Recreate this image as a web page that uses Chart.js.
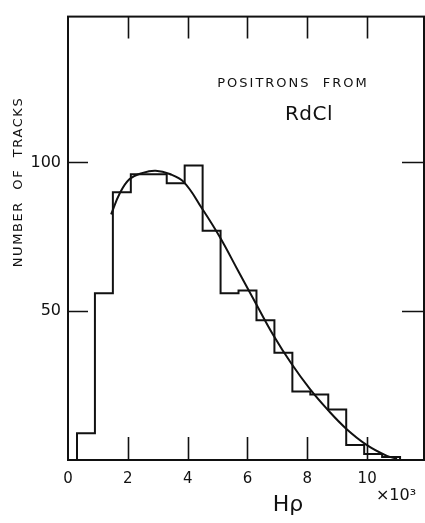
<!DOCTYPE html>
<html>
<head>
<meta charset="utf-8">
<script src="https://cdn.jsdelivr.net/npm/chart.js@4.4.1/dist/chart.umd.min.js"></script>
<style>
  html, body { margin: 0; padding: 0; background: #fff; }
  #wrap { width: 425px; height: 523px; }
</style>
</head>
<body>
<div id="wrap"><canvas id="tracksChart" width="425" height="523"></canvas></div>
<script>
// histogram: bins of width 0.6 (x10^3 gauss-cm), left edges
const binEdges = [0.3, 0.9, 1.5, 2.1, 2.7, 3.3, 3.9, 4.5, 5.1, 5.7, 6.3, 6.9, 7.5, 8.1, 8.7, 9.3, 9.9, 10.5, 11.1];
const trackCounts = [9, 56, 90, 96, 96, 93, 99, 77, 56, 57, 47, 36, 23, 22, 17, 5, 2, 1];

// smooth theoretical curve
const curveX = [1.44, 1.72, 2.06, 2.5, 2.93, 3.4, 3.88, 4.48, 5.07, 5.69, 6.28, 6.86, 7.46, 8.09, 8.67, 9.28, 9.98, 10.66, 11.0];
const curveY = [82.5, 89.4, 94.4, 96.5, 97.2, 96.1, 93.3, 84.5, 75, 63.5, 52.6, 42, 32.5, 23.8, 17, 10.7, 5.1, 1.4, 0.4];

const xTicks = [0, 2, 4, 6, 8, 10];
const yTicks = [50, 100];
const innerTicksX = [2, 4, 6, 8, 10];

const ink = '#111';

// step outline points
const histPoints = [{ x: binEdges[0], y: 0 }];
for (let i = 0; i < trackCounts.length; i++) {
  histPoints.push({ x: binEdges[i], y: trackCounts[i] });
}
histPoints.push({ x: binEdges[binEdges.length - 1], y: 0 });

const curvePoints = curveX.map((x, i) => ({ x: x, y: curveY[i] }));

// frame, inward ticks and the lettering
const frameAndText = {
  id: 'frameAndText',
  afterDraw(chart) {
    const ctx = chart.ctx;
    const a = chart.chartArea;
    const xs = chart.scales.x;
    const ys = chart.scales.y;
    ctx.save();
    ctx.strokeStyle = ink;
    ctx.lineWidth = 2;
    ctx.strokeRect(a.left, a.top, a.right - a.left, a.bottom - a.top);
    ctx.beginPath();
    innerTicksX.forEach(v => {
      const px = Math.round(xs.getPixelForValue(v)) + 0.5;
      ctx.moveTo(px, a.top); ctx.lineTo(px, a.top + 22);
      ctx.moveTo(px, a.bottom); ctx.lineTo(px, a.bottom - 23);
    });
    yTicks.forEach(v => {
      const py = Math.round(ys.getPixelForValue(v)) + 0.5;
      ctx.moveTo(a.left, py); ctx.lineTo(a.left + 20, py);
      ctx.moveTo(a.right, py); ctx.lineTo(a.right - 22, py);
    });
    ctx.lineWidth = 1.6;
    ctx.stroke();

    ctx.fillStyle = ink;
    ctx.textAlign = 'center';
    ctx.textBaseline = 'middle';
    ctx.letterSpacing = '2px';
    ctx.font = '13px "DejaVu Sans"';
    ctx.fillText('POSITRONS  FROM', 293, 84);
    ctx.letterSpacing = '0.5px';
    ctx.font = '20px "DejaVu Sans"';
    ctx.fillText('RdCl', 309, 115);
    ctx.letterSpacing = '0px';

    ctx.font = '22px "DejaVu Sans"';
    ctx.fillText('Hρ', 288, 505);
    ctx.font = '16px "DejaVu Sans"';
    ctx.fillText('×10³', 396, 496);

    ctx.translate(19, 182);
    ctx.rotate(-Math.PI / 2);
    ctx.letterSpacing = '1.6px';
    ctx.font = '13px "DejaVu Sans"';
    ctx.fillText('NUMBER  OF  TRACKS', 0, 0);
    ctx.restore();
  }
};

const ctx = document.getElementById('tracksChart').getContext('2d');
new Chart(ctx, {
  type: 'line',
  data: {
    datasets: [
      {
        label: 'Tracks',
        data: histPoints,
        stepped: 'before',
        borderColor: ink,
        borderWidth: 2,
        pointRadius: 0,
        fill: false
      },
      {
        label: 'Theory',
        data: curvePoints,
        tension: 0.4,
        borderColor: ink,
        borderWidth: 2,
        pointRadius: 0,
        fill: false
      }
    ]
  },
  options: {
    responsive: false,
    animation: false,
    layout: { padding: { top: 15, right: 1, left: 0, bottom: 0 } },
    plugins: { legend: { display: false }, tooltip: { enabled: false } },
    scales: {
      x: {
        type: 'linear',
        min: 0,
        max: 11.9,
        grid: { display: false, drawTicks: false },
        border: { display: false },
        afterBuildTicks: s => { s.ticks = xTicks.map(v => ({ value: v })); },
        afterFit: s => { s.height = 63; },
        ticks: {
          padding: 10,
          maxRotation: 0,
          color: ink,
          font: { family: 'DejaVu Sans', size: 15 }
        }
      },
      y: {
        min: 0,
        max: 149,
        grid: { display: false, drawTicks: false },
        border: { display: false },
        afterBuildTicks: s => { s.ticks = yTicks.map(v => ({ value: v })); },
        afterFit: s => { s.width = 68; },
        ticks: {
          padding: 7,
          color: ink,
          font: { family: 'DejaVu Sans', size: 16 }
        }
      }
    }
  },
  plugins: [frameAndText]
});
</script>
</body>
</html>
